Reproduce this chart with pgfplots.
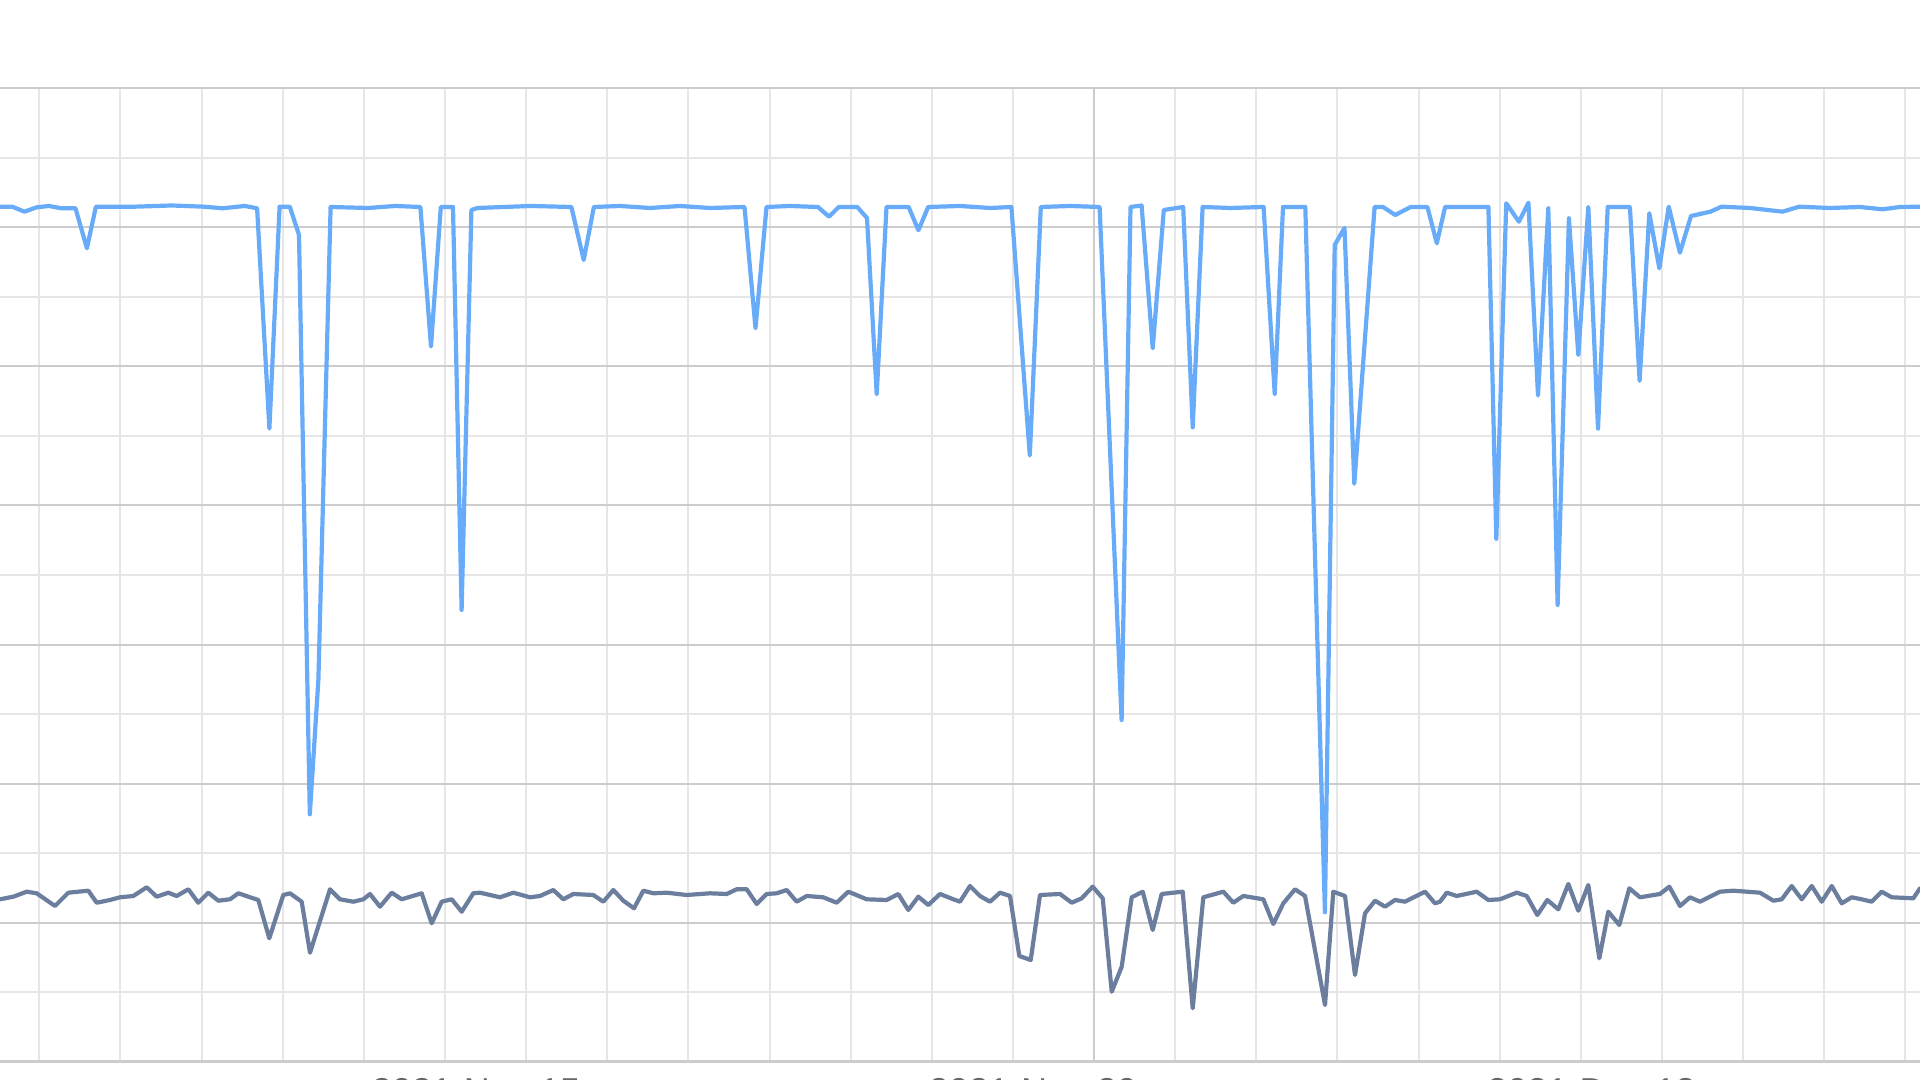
\documentclass[border=0pt]{standalone}
\usepackage{pgfplots}
\pgfplotsset{compat=1.18}
\usepackage{fontspec}
\setmainfont{Liberation Sans}

\definecolor{seriesblue}{RGB}{104,172,249}
\definecolor{seriesgrey}{RGB}{108,126,158}
\definecolor{gridlight}{RGB}{230,230,230}
\definecolor{griddark}{RGB}{204,204,204}
\definecolor{labelgrey}{RGB}{102,102,102}

% 1 px of the 1920x1080 screenshot = 0.5pt, y measured up from the bottom edge
\begin{document}
\begin{tikzpicture}
\begin{axis}[
  x=0.5pt, y=0.5pt,
  at={(-25pt,9pt)}, anchor=south west,
  xmin=-50, xmax=1970,
  ymin=18, ymax=992,
  axis line style={draw=none},
  tick style={draw=none},
  major tick length=0pt, minor tick length=0pt,
  xtick={476,1033,1591.5},
  xticklabels={2021-Nov-15,2021-Nov-29,2021-Dec-13},
  xticklabel style={font=\fontsize{18}{20}\selectfont, text=labelgrey, anchor=base, yshift=-20.9pt},
  minor xtick={39.3,120.4,201.6,282.7,363.8,445.0,526.1,607.2,688.3,769.5,850.6,931.7,1012.9,1094.0,1175.1,1256.3,1337.4,1418.5,1499.6,1580.8,1661.9,1743.0,1824.2,1905.3},
  xminorgrids,
  ytick={18,157.14,296.29,435.43,574.57,713.71,852.86,992},
  minor ytick={87.57,226.71,365.86,505,644.14,783.29,922.43},
  yticklabel={},
  ymajorgrids, yminorgrids,
  major grid style={color=griddark, line width=1pt},
  minor grid style={color=gridlight, line width=1pt},
  extra x ticks={1094},
  extra x tick labels={},
  extra x tick style={grid=major, major grid style={color=griddark, line width=1pt}},
  extra y ticks={18},
  extra y tick labels={},
  extra y tick style={grid=major, major grid style={color=griddark, line width=1.5pt}},
]

% upper series
\addplot[color=seriesblue, line width=2.1pt, line join=round] coordinates {
(-20,872)
(0,873.3)(12.2,873.3)(24.5,868.3)(36.7,872.7)(49,874)(61.2,871.7)(75.5,871.7)(86.9,831.7)(95.9,873.3)
(134.7,873.3)(171.4,874.5)(204,873.3)(222.4,871.7)(244.9,874)(257.1,871.7)
(269.4,651.4)(279.6,873.3)(289.8,873.3)(299,845)(309.8,265.7)(318.4,400.4)(330.6,873)
(368,872)(395,874)(420.4,873)(431,733.5)(440.8,873)(453,873)(461.6,470)(471.4,870)(477.5,872)
(530.6,874)(571.4,873)(583.7,820)(593.9,873)
(620,874)(650,872)(680,874)(710,872)(744.5,873)(755.5,751.8)(766.5,873)(790,874)(818,873)
(829,863.3)(838.8,873)(857.2,873)(867,862)(876.7,685.7)(886.5,873)(908.6,873)(918.4,849.8)(928.2,873)
(960,874)(990,872)(1011.4,873)(1029.8,624.5)(1040.8,873)(1070,874)(1099.6,873)(1121.6,360)
(1130.5,873)(1141.6,874.5)(1152.7,731.7)(1163.8,870)(1183.2,873)(1192.7,652.6)(1202.6,873)
(1230,872)(1263.6,873)(1274.7,685.7)(1283,873)(1305.3,873)(1324.9,167.7)(1334.7,835)(1344.5,852)
(1354.3,596.3)(1374.6,873)(1383,873)(1395.2,865)(1410.7,873)(1427.4,873)(1436.8,836.7)(1445.1,873)
(1488.4,873)(1496.3,541.2)(1506.2,876.7)(1518.9,858.3)(1528.4,877.3)(1538,684.5)(1548.3,871.7)
(1557.6,475)(1568.9,861.7)(1578.3,725)(1588.3,873)(1598,651.4)(1607.7,873)(1629.9,873)
(1639.6,699.2)(1649.3,866.7)(1659.3,811.7)(1668.7,873.3)(1679.9,827.3)(1691,864)(1710.4,868.3)
(1721.5,873.3)(1750,872)(1782.5,868.3)(1799.2,873.3)(1830,872)(1860,873)(1882.4,870.7)(1900,873)
(1920.1,873.3)(1940,873)
};

% lower series
\addplot[color=seriesgrey, line width=2.1pt, line join=round] coordinates {
(-20,182)
(0,180.7)(13.3,183.3)(26.7,188.3)(36.7,186.7)(55,174)(68.3,187.3)(88.3,189.3)(96.7,177.3)(110,180)
(120,182.7)(133.3,184)(146.7,192.7)(156.7,183.3)(168.3,187.3)(176.7,184)(188.3,190.7)(198.3,177.3)
(208.3,187.3)(218.3,179.3)(230,180.7)(238.3,186.7)(258.3,180)(269.3,141.7)(283.3,185)(290,186.7)
(301.7,178.3)(310,127.3)(330,190.7)(340,180.7)(353.3,178.3)(363.3,180.7)(370,186)(380,173.3)
(391.7,187.3)(401.7,180.7)(421.7,186.7)(431.7,156.7)(441.7,178.3)(451.7,180.7)(461.7,168.3)(473.3,186.7)
(480,187.3)(500,182.7)(513.3,187.3)(530,182.7)(540,184)(553.3,190)(563.3,180.7)(573.3,186)(593.3,185)
(603.3,178.3)(613.3,190)(623.3,179.3)(634,171.7)(643.3,189.3)(653.3,186.7)(666.7,187.3)(686.7,185)
(710,186.7)(726.7,186)(736.7,190.7)(746.7,190.7)(756.7,176)(766.7,186)(776.7,186.7)(786.7,190)
(796.7,178.3)(806.7,184)(823.3,182.7)(836.7,177.3)(848.3,188.3)(866.7,180.7)(886.7,180)(898.3,186)
(908.3,170)(918.3,183.3)(928.3,175)(940,186)(953.3,180.7)
(960,178.3)(970,194)(980,184)(990,178.3)(1000,187.3)(1010,184)(1019.3,124)(1030.7,120)(1040,185)
(1060,186)(1071.7,177.3)(1081.7,181.7)(1092.7,193.3)(1102.7,181.7)(1111.7,88.3)(1121.7,113.3)
(1131.7,182.7)(1142.7,188.3)(1152.7,150)(1161.7,186)(1182.7,188.3)(1192.7,71.7)(1203.3,182.7)
(1223.3,188.3)(1233.3,177.3)(1243.3,184)(1263.3,180.7)(1273.3,156)(1283.3,176.7)(1295,190.7)
(1305,184)(1325,75)(1333.3,188.3)(1345,184)(1355,105)(1365,166.7)(1375,179.3)(1385,173.3)
(1395,180)(1405,178.3)(1415,183.3)(1425,188.3)(1435,176.7)
(1440,178.3)(1446.7,187.3)(1456.7,184)(1476.7,188.3)(1488.3,180)(1500,180.7)(1516.7,187.3)
(1526.7,184)(1537.3,165)(1547.3,180)(1558.3,170.7)(1568.3,196)(1578.3,169.3)(1588.3,195)
(1599.3,121.7)(1608.3,168.3)(1619.3,155)(1629.3,191.7)(1640,182.7)(1660,186)(1669.3,193.3)
(1680,174)(1690,182.7)(1700,178.3)(1720,188.3)(1733.3,189.3)(1760,187.3)(1773.3,179.3)
(1781.7,180.7)(1791.7,194)(1801.7,180.7)(1811.7,194)(1821.7,178.3)(1831.7,194)(1841.7,176.7)
(1851.7,182.7)(1861.7,180.7)(1871.7,178.3)(1881.7,188.3)(1891.7,182.7)(1913.3,181.7)(1920,191.7)
(1935,190)
};

\end{axis}
\pgfresetboundingbox
\useasboundingbox (0,0) rectangle (960pt,540pt);
\end{tikzpicture}
\end{document}
